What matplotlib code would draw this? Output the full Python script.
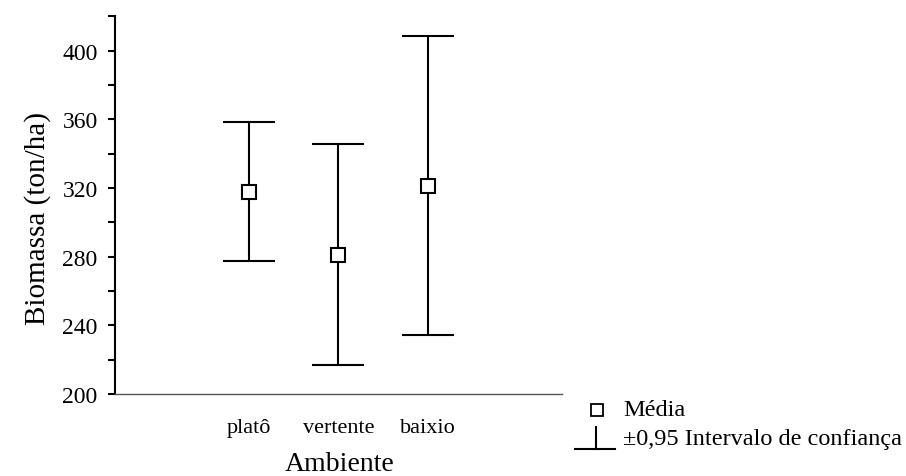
import numpy as np
import matplotlib.pyplot as plt
from matplotlib.lines import Line2D

# dados
ambientes = ["platô", "vertente", "baixio"]
media = [317.8, 281.0, 321.2]
ic_inferior = [277.4, 217.1, 234.4]
ic_superior = [358.2, 345.8, 408.2]

plt.rcParams['font.family'] = ['Liberation Serif', 'DejaVu Serif']

fig = plt.figure(figsize=(9.06, 4.77), dpi=100)
ax = fig.add_axes([0.127, 0.172, 0.493, 0.792])

x = np.arange(1, len(ambientes) + 1)
media = np.array(media)
erro = np.vstack([media - np.array(ic_inferior), np.array(ic_superior) - media])

ax.errorbar(x, media, yerr=erro, fmt='s', color='black', ecolor='black',
            elinewidth=1.5, capsize=18.5, capthick=1.5,
            markersize=9.5, markerfacecolor='white', markeredgecolor='black',
            markeredgewidth=1.5, zorder=3)

ax.set_xlim(-0.5, 4.5)
ax.set_ylim(200, 420)
ax.set_yticks(np.arange(200, 401, 40))
ax.set_yticks(np.arange(220, 421, 40), minor=True)
ax.set_xticks(x)
ax.set_xticklabels(ambientes, fontsize=16)
ax.tick_params(axis='x', length=0, pad=17)
ax.tick_params(axis='y', which='both', direction='out', length=5, width=1.5,
               labelsize=17, pad=7.5)

for s in ['top', 'right']:
    ax.spines[s].set_visible(False)
ax.spines['left'].set_linewidth(1.5)
ax.spines['bottom'].set_linewidth(1.0)
ax.spines['bottom'].set_color('#555555')

ax.set_ylabel("Biomassa (ton/ha)", fontsize=21)
ax.yaxis.set_label_coords(-0.143, 0.468)
ax.set_xlabel("Ambiente", fontsize=20)
ax.xaxis.set_label_coords(0.503, -0.152)

# legenda desenhada a mao
fig.add_artist(Line2D([597 / 906], [1 - 411 / 477], marker='s', markersize=8,
                      markerfacecolor='white', markeredgecolor='black',
                      markeredgewidth=1.3, transform=fig.transFigure))
fig.add_artist(Line2D([596 / 906, 596 / 906], [1 - 428 / 477, 1 - 450 / 477],
                      color='black', lw=1.5, transform=fig.transFigure))
fig.add_artist(Line2D([575 / 906, 615 / 906], [1 - 450 / 477, 1 - 450 / 477],
                      color='black', lw=1.5, transform=fig.transFigure))
fig.text(623 / 906, 1 - 411 / 477, "Média", fontsize=17.5, va='center')
fig.text(623 / 906, 1 - 439 / 477, "±0,95 Intervalo de confiança", fontsize=17.5,
         va='center')

fig.savefig("out.png", dpi=100)
